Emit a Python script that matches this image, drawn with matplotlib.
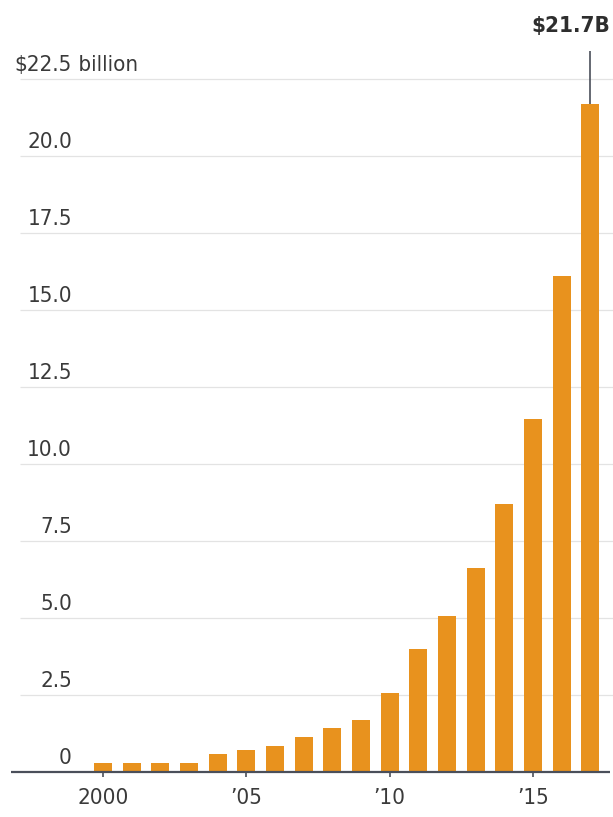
#!/usr/bin/env python3

import matplotlib
matplotlib.use('Agg')
import matplotlib.pyplot as plt

# Annual values, billions of dollars
years = list(range(2000, 2018))
values = [0.28, 0.30, 0.30, 0.30, 0.58, 0.71, 0.84, 1.14, 1.43, 1.69,
          2.56, 3.99, 5.05, 6.63, 8.70, 11.46, 16.10, 21.70]

y_ticks = [0, 2.5, 5.0, 7.5, 10.0, 12.5, 15.0, 17.5, 20.0, 22.5]
y_labels = ['0', '2.5', '5.0', '7.5', '10.0', '12.5', '15.0', '17.5', '20.0', '$22.5']
x_ticks = [2000, 2005, 2010, 2015]
x_labels = ['2000', '\u201905', '\u201910', '\u201915']
last_label = '$21.7B'

bar_color = '#E8921E'
text_color = '#3a3a3a'
plt.rcParams['font.family'] = ['DejaVu Sans']
plt.rcParams['font.stretch'] = 'condensed'

W, H = 613, 817
fig = plt.figure(figsize=(W / 100, H / 100), dpi=100)
ax = fig.add_axes([0, 0, 1, 1])

# pixel mapping: year 2000 at x=103, 28.67 px per year; value 0 at y=772, 30.8 px per unit
px_year = 28.67
px_unit = 30.8
ax.set_xlim(2000 - 103 / px_year, 2000 + (W - 103) / px_year)
ax.set_ylim(-(H - 772) / px_unit, 772 / px_unit)
ax.axis('off')

# gridlines
x0, x1 = ax.get_xlim()
for t in y_ticks[1:]:
    ax.hlines(t, x0 + 20 / px_year, x1, color='#e3e3e3', lw=0.9, zorder=1)

ax.bar(years, values, width=0.63, color=bar_color, zorder=2)

# baseline
ax.hlines(0, x0 + 11 / px_year, x0 + 610 / px_year, color='#4a4f5a', lw=1.6, zorder=3)

# y labels sit just above the gridlines
fs = 16
label_x = x0 + 72 / px_year
for t, lab in zip(y_ticks, y_labels):
    ax.annotate(lab, (label_x, t), xytext=(0, 3), textcoords='offset points',
                ha='right', va='bottom', fontsize=fs, color=text_color)
ax.annotate(' billion', (label_x, y_ticks[-1]), xytext=(0, 3), textcoords='offset points',
            ha='left', va='bottom', fontsize=fs, color=text_color)

# x ticks and labels
for t, lab in zip(x_ticks, x_labels):
    ax.vlines(t, -5 / px_unit, 0, color='#4a4f5a', lw=1.2, zorder=3)
    ax.text(t, -26 / px_unit, lab, ha='center', va='center', fontsize=fs, color=text_color)

# callout for the last bar
ax.vlines(years[-1], values[-1], values[-1] + 53 / px_unit, color='#4a4f5a', lw=1.2)
ax.text(x0 + 610 / px_year, values[-1] + 78 / px_unit, last_label,
        ha='right', va='center', fontsize=16, fontweight='bold', color='#2e2e2e')

fig.savefig('out.png', dpi=100)
